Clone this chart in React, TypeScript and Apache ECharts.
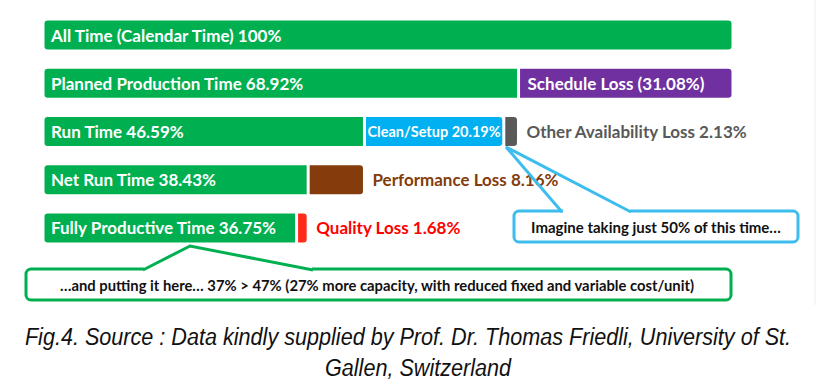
import React, { useEffect, useRef } from "react";
import * as echarts from "echarts";

const categories = ["All Time", "Planned Production Time", "Run Time", "Net Run Time", "Fully Productive Time"];
const productive = [100, 68.92, 46.59, 38.43, 36.75];
const productiveLabels = [
  "All Time (Calendar Time) 100%",
  "Planned Production Time 68.92%",
  "Run Time 46.59%",
  "Net Run Time 38.43%",
  "Fully Productive Time 36.75%",
];
const scheduleLoss = ["-", 31.08, "-", "-", "-"];
const cleanSetup = ["-", "-", 20.19, "-", "-"];
const otherAvailability = ["-", "-", 2.13, "-", "-"];
const performanceLoss = ["-", "-", "-", 8.16, "-"];
const qualityLoss = ["-", "-", "-", "-", 1.68];

const FONT = "Lato, 'Open Sans', sans-serif";
const CAPTION_FONT = "italic 24px 'Liberation Sans', Arial, sans-serif";

export default function App() {
  const ref = useRef<HTMLDivElement>(null);
  useEffect(() => {
    if (!ref.current) return;
    const chart = echarts.init(ref.current, null, { renderer: "svg" });
    const lossSeries = (name: string, data: any[], color: string, label: any) => ({
      name,
      type: "bar",
      stack: "t",
      data,
      barWidth: 32,
      itemStyle: { color, borderRadius: [0, 4, 4, 0], borderColor: "#ffffff", borderWidth: 1.5 },
      label,
    });
    chart.setOption({
      animation: false,
      grid: { left: 43, right: 107, top: 11, bottom: 138 },
      xAxis: { type: "value", min: 0, max: 100, show: false },
      yAxis: { type: "category", data: categories, inverse: true, show: false },
      series: [
        {
          name: "Productive",
          type: "bar",
          stack: "t",
          barWidth: 32,
          data: productive.map((v, i) => ({
            value: v,
            itemStyle: { borderRadius: i === 0 ? 4 : [4, 0, 0, 4] },
          })),
          itemStyle: { color: "#00b050", borderColor: "#ffffff", borderWidth: 1.5 },
          label: {
            show: true,
            position: "insideLeft",
            distance: 8,
            color: "#ffffff",
            fontFamily: FONT,
            fontWeight: "bold",
            fontSize: 17,
            formatter: (p: any) => productiveLabels[p.dataIndex],
          },
        },
        lossSeries("Schedule Loss", scheduleLoss, "#7030a0", {
          show: true,
          position: "insideLeft",
          distance: 9,
          color: "#ffffff",
          fontFamily: FONT,
          fontWeight: "bold",
          fontSize: 17,
          formatter: (p: any) => `Schedule Loss (${p.value}%)`,
        }),
        lossSeries("Clean/Setup", cleanSetup, "#00b0f0", {
          show: true,
          position: "insideLeft",
          distance: 3,
          color: "#ffffff",
          fontFamily: FONT,
          fontWeight: "bold",
          fontSize: 14.5,
          formatter: (p: any) => `Clean/Setup ${p.value}%`,
        }),
        lossSeries("Other Availability Loss", otherAvailability, "#595959", {
          show: true,
          position: "right",
          distance: 8,
          color: "#595959",
          fontFamily: FONT,
          fontWeight: "bold",
          fontSize: 17,
          formatter: (p: any) => `Other Availability Loss ${p.value}%`,
        }),
        lossSeries("Performance Loss", performanceLoss, "#843c0c", {
          show: true,
          position: "right",
          distance: 8,
          color: "#843c0c",
          fontFamily: FONT,
          fontWeight: "bold",
          fontSize: 17,
          formatter: (p: any) => `Performance Loss ${p.value}%`,
        }),
        lossSeries("Quality Loss", qualityLoss, "#ff2a1a", {
          show: true,
          position: "right",
          distance: 8,
          color: "#ff0000",
          fontFamily: FONT,
          fontWeight: "bold",
          fontSize: 17,
          formatter: (p: any) => `Quality Loss ${p.value}%`,
        }),
      ],
      graphic: [
        { type: "line", shape: { x1: 815, y1: 0, x2: 815, y2: 305 }, style: { stroke: "#eeeeee", lineWidth: 1 }, silent: true },
        // blue callout
        {
          type: "rect",
          shape: { x: 514, y: 211, width: 284, height: 31, r: 5 },
          style: { fill: "#ffffff", stroke: "#3cbdee", lineWidth: 3 },
          z: 10,
        },
        { type: "line", shape: { x1: 563, y1: 211, x2: 630, y2: 211 }, style: { stroke: "#ffffff", lineWidth: 4 }, z: 11 },
        {
          type: "polyline",
          shape: { points: [[562, 212], [506, 147], [631, 212]] },
          style: { stroke: "#3cbdee", lineWidth: 3, fill: null },
          z: 12,
        },
        {
          type: "text",
          x: 656,
          y: 227,
          style: {
            text: "Imagine taking just 50% of this time…",
            fill: "#111111",
            font: `bold 15px ${FONT}`,
            align: "center",
            verticalAlign: "middle",
          },
          z: 13,
        },
        // green callout
        {
          type: "rect",
          shape: { x: 26, y: 269, width: 705, height: 31, r: 5 },
          style: { fill: "#ffffff", stroke: "#00b050", lineWidth: 3 },
          z: 10,
        },
        { type: "line", shape: { x1: 144, y1: 269, x2: 312, y2: 269 }, style: { stroke: "#ffffff", lineWidth: 4 }, z: 11 },
        {
          type: "polyline",
          shape: { points: [[143, 270], [190, 246], [313, 270]] },
          style: { stroke: "#00b050", lineWidth: 3, fill: null },
          z: 12,
        },
        {
          type: "text",
          x: 377,
          y: 285,
          style: {
            text: "…and putting it here… 37% > 47% (27% more capacity, with reduced fixed and variable cost/unit)",
            fill: "#111111",
            font: `bold 14.8px ${FONT}`,
            align: "center",
            verticalAlign: "middle",
          },
          z: 13,
        },
        // caption
        {
          type: "text",
          x: 408,
          y: 337,
          scaleX: 0.9,
          style: {
            text: "Fig.4. Source : Data kindly supplied by Prof. Dr. Thomas Friedli, University of St.",
            fill: "#111111",
            font: CAPTION_FONT,
            align: "center",
            verticalAlign: "middle",
          },
        },
        {
          type: "text",
          x: 418,
          y: 368,
          scaleX: 0.9,
          style: {
            text: "Gallen, Switzerland",
            fill: "#111111",
            font: CAPTION_FONT,
            align: "center",
            verticalAlign: "middle",
          },
        },
      ],
    });
    return () => chart.dispose();
  }, []);
  return <div ref={ref} style={{ position: "fixed", left: 0, top: 0, width: 840, height: 390, background: "#ffffff" }} />;
}
